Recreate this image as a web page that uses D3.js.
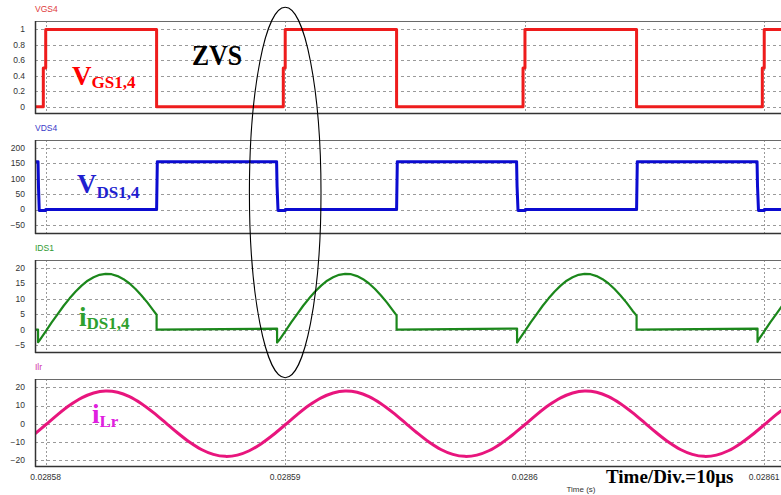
<!DOCTYPE html>
<html><head><meta charset="utf-8">
<script src="https://cdn.jsdelivr.net/npm/d3@7"></script>
<style>body{margin:0;background:#fff}svg{display:block}</style>
</head><body><svg id="c" width="781" height="495"></svg>
<script>
// Time axis: microseconds after t = 0.02858 s
const xTickValues = [0, 10, 20, 30];
const xTickLabels = ["0.02858", "0.02859", "0.0286", "0.02861"];

const vgsTicks = [0, 0.2, 0.4, 0.6, 0.8, 1];
const vdsTicks = [-50, 0, 50, 100, 150, 200];
const idsTicks = [-5, 0, 5, 10, 15, 20];
const ilrTicks = [-20, -10, 0, 10, 20];

const vgsTime = [-0.45,-0.1,-0.1,0,0,4.63,4.63,9.92,9.92,10,10,14.65,14.65,19.93,19.93,20.01,20.01,24.67,24.67,29.92,29.92,30,30,30.8];
const vgsValues = [0,0,0.5,0.5,1,1,0,0,0.5,0.5,1,1,0,0,0.5,0.5,1,1,0,0,0.5,0.5,1,1];

const vdsTime = [-0.45,-0.32,-0.30,-0.27,0,0,4.63,4.66,9.64,9.66,9.70,10,10,14.65,14.68,19.66,19.68,19.72,20.02,20.02,24.67,24.70,29.70,29.72,29.76,30,30,30.8];
const vdsValues = [155,155,70,-3,-3,0,0,155,155,75,-3,-3,0,0,155,155,75,-3,-3,0,0,155,155,75,-3,-3,0,0];

const idsTime = [-0.45,-0.32,-0.32,-0.25,0,0.25,0.5,0.75,1,1.25,1.5,1.75,2,2.25,2.5,2.75,3,3.25,3.5,3.75,4,4.25,4.5,4.63,4.63,
  9.66,9.66,9.75,10,10.25,10.5,10.75,11,11.25,11.5,11.75,12,12.25,12.5,12.75,13,13.25,13.5,13.75,14,14.25,14.5,14.65,14.65,
  19.68,19.68,19.75,20,20.25,20.5,20.75,21,21.25,21.5,21.75,22,22.25,22.5,22.75,23,23.25,23.5,23.75,24,24.25,24.5,24.67,24.67,
  29.72,29.72,29.75,30,30.25,30.5,30.75,31];
const idsValues = [0,0,-4.1,-3.4,-0.6,2.3,5.0,7.7,10.1,12.3,14.2,15.8,16.9,17.7,18.0,17.9,17.3,16.3,14.9,13.1,11.0,8.7,6.1,4.8,0,
  0.3,-4.2,-3.4,-0.6,2.3,5.0,7.7,10.1,12.3,14.2,15.8,16.9,17.7,18.0,17.9,17.3,16.3,14.9,13.1,11.0,8.7,6.1,4.6,0,
  0.3,-4.2,-3.4,-0.6,2.3,5.0,7.7,10.1,12.3,14.2,15.8,16.9,17.7,18.0,17.9,17.3,16.3,14.9,13.1,11.0,8.7,6.1,4.5,0,
  0.3,-4.0,-3.4,-0.6,2.3,5.0,7.7,10.1];

const ilrTime = [-0.5,0,0.5,1,1.5,2,2.5,3,3.5,4,4.5,5,5.5,6,6.5,7,7.5,8,8.5,9,9.5,
  10,10.5,11,11.5,12,12.5,13,13.5,14,14.5,15,15.5,16,16.5,17,17.5,18,18.5,19,19.5,
  20,20.5,21,21.5,22,22.5,23,23.5,24,24.5,25,25.5,26,26.5,27,27.5,28,28.5,29,29.5,
  30,30.5,31];
const ilrValues = [-6.1,-0.6,5.0,10.1,14.2,16.9,18.0,17.3,14.9,11.0,6.1,0.6,-5.0,-10.1,-14.2,-16.9,-18.0,-17.3,-14.9,-11.0,-6.1,
  -0.6,5.0,10.1,14.2,16.9,18.0,17.3,14.9,11.0,6.1,0.6,-5.0,-10.1,-14.2,-16.9,-18.0,-17.3,-14.9,-11.0,-6.1,
  -0.6,5.0,10.1,14.2,16.9,18.0,17.3,14.9,11.0,6.1,0.6,-5.0,-10.1,-14.2,-16.9,-18.0,-17.3,-14.9,-11.0,-6.1,
  -0.6,5.0,10.1];

const svg = d3.select("#c");
const X0 = 35, X1 = 781;
const x = d3.scaleLinear().domain([-0.447, 30.70]).range([X0, X1]);

const panels = [
  {title:"VGS4", tcol:"#e03a3a", top:21, bottom:113, domain:[-0.082,1.11], ticks:vgsTicks, t:vgsTime, v:vgsValues, col:"#ee1c1c", w:3, curve:d3.curveLinear, fmt:d3.format("")},
  {title:"VDS4", tcol:"#3a3ac8", top:140, bottom:233, domain:[-76,225], ticks:vdsTicks, t:vdsTime, v:vdsValues, col:"#0b0bd0", w:3, curve:d3.curveLinear, fmt:d3.format("")},
  {title:"IDS1", tcol:"#2f9a2f", top:260, bottom:352, domain:[-7.26,22.5], ticks:idsTicks, t:idsTime, v:idsValues, col:"#1b871b", w:2.2, curve:d3.curveLinear, fmt:d3.format("")},
  {title:"Ilr", tcol:"#d030a8", top:379, bottom:466, domain:[-23.3,24.6], ticks:ilrTicks, t:ilrTime, v:ilrValues, col:"#e8157d", w:3, curve:d3.curveCatmullRom, fmt:d3.format("")}
];

panels.forEach((p, i) => {
  const y = d3.scaleLinear().domain(p.domain).range([p.bottom, p.top]);
  const g = svg.append("g");
  const clipId = "clip" + i;
  svg.append("clipPath").attr("id", clipId).append("rect")
    .attr("x", X0).attr("y", p.top).attr("width", X1 - X0 + 5).attr("height", p.bottom - p.top);

  // horizontal grid
  g.selectAll(".hg").data(p.ticks).join("line")
    .attr("x1", X0).attr("x2", X1 + 5)
    .attr("y1", d => Math.round(y(d)) + 0.5).attr("y2", d => Math.round(y(d)) + 0.5)
    .attr("stroke", "#9a9a9a").attr("stroke-width", 1).attr("stroke-dasharray", "3,3");
  // vertical grid
  g.selectAll(".vg").data(xTickValues).join("line")
    .attr("x1", d => Math.round(x(d)) + 0.5).attr("x2", d => Math.round(x(d)) + 0.5)
    .attr("y1", p.top).attr("y2", p.bottom)
    .attr("stroke", "#9a9a9a").attr("stroke-width", 1).attr("stroke-dasharray", "2,2");

  // y tick labels
  g.selectAll(".yl").data(p.ticks).join("text")
    .attr("x", 25).attr("y", d => y(d)).attr("dy", "0.35em")
    .attr("text-anchor", "end")
    .attr("font-family", "Liberation Sans, Arial, sans-serif").attr("font-size", 8.5)
    .attr("fill", "#333").text(p.fmt);

  // title
  g.append("text").attr("x", 35).attr("y", p.top - 9)
    .attr("font-family", "Liberation Sans, Arial, sans-serif").attr("font-size", 8.5)
    .attr("fill", p.tcol).text(p.title);

  // series line
  const pts = p.t.map((t, k) => [t, p.v[k]]);
  g.append("path").datum(pts)
    .attr("clip-path", `url(#${clipId})`)
    .attr("fill", "none").attr("stroke", p.col).attr("stroke-width", p.w)
    .attr("stroke-linejoin", "round")
    .attr("d", d3.line().x(d => x(d[0])).y(d => y(d[1])).curve(p.curve));

  // frame
  g.append("line").attr("x1", X0).attr("x2", X1 + 5).attr("y1", p.top + 0.5).attr("y2", p.top + 0.5)
    .attr("stroke", "#6a6a6a").attr("stroke-width", 1);
  g.append("line").attr("x1", X0).attr("x2", X1 + 5).attr("y1", p.bottom + 0.5).attr("y2", p.bottom + 0.5)
    .attr("stroke", "#333").attr("stroke-width", 1.5);
  g.append("line").attr("x1", X0 + 0.5).attr("x2", X0 + 0.5).attr("y1", p.top).attr("y2", p.bottom + 1)
    .attr("stroke", "#333").attr("stroke-width", 1.5);
});

// x tick labels
svg.selectAll(".xl").data(xTickValues).join("text")
  .attr("x", d => x(d)).attr("y", 480).attr("text-anchor", "middle")
  .attr("font-family", "Liberation Sans, Arial, sans-serif").attr("font-size", 8.5)
  .attr("fill", "#333").text((d, i) => xTickLabels[i]);
svg.append("text").attr("x", 581).attr("y", 492).attr("text-anchor", "middle")
  .attr("font-family", "Liberation Sans, Arial, sans-serif").attr("font-size", 8)
  .attr("fill", "#333").text("Time (s)");

// annotations
const serif = "Liberation Serif, Times New Roman, serif";
function subLabel(xp, yp, main, sub, color, dy) {
  const t = svg.append("text").attr("x", xp).attr("y", yp)
    .attr("font-family", serif).attr("font-weight", "bold").attr("fill", color);
  t.append("tspan").attr("font-size", 27).text(main);
  t.append("tspan").attr("font-size", 17).attr("dy", dy).text(sub);
}
subLabel(72, 85, "V", "GS1,4", "#ff0000", 3);
subLabel(77, 193, "V", "DS1,4", "#1f1fd0", 5);
subLabel(79, 326, "i", "DS1,4", "#2ea02e", 3);
subLabel(92, 423, "i", "Lr", "#e020e0", 3.5);

svg.append("text").attr("x", 192).attr("y", 65)
  .attr("font-family", serif).attr("font-weight", "bold").attr("font-size", 29)
  .attr("textLength", 50).attr("lengthAdjust", "spacingAndGlyphs")
  .attr("fill", "#000").text("ZVS");

svg.append("text").attr("x", 606).attr("y", 483)
  .attr("font-family", serif).attr("font-weight", "bold").attr("font-size", 19)
  .attr("fill", "#000").text("Time/Div.=10μs");

svg.append("ellipse").attr("cx", 285.2).attr("cy", 192.5).attr("rx", 35.8).attr("ry", 185.2)
  .attr("fill", "none").attr("stroke", "#000").attr("stroke-width", 1.1);
</script></body></html>
